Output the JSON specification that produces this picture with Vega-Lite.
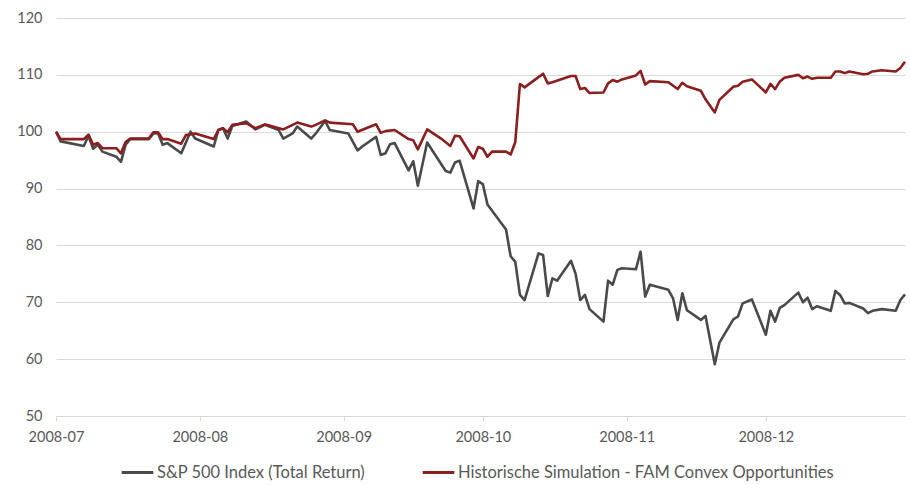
{
  "$schema": "https://vega.github.io/schema/vega-lite/v6.json",
  "width": 849,
  "height": 398,
  "autosize": {"type": "none"},
  "padding": {"left": 56, "top": 18, "right": 5, "bottom": 69},
  "background": "white",
  "datasets": {
    "sp": [
      {"date":"2008-07-01","value":100},{"date":"2008-07-02","value":98.3},{"date":"2008-07-07","value":97.5},{"date":"2008-07-08","value":99.3},{"date":"2008-07-09","value":97},{"date":"2008-07-10","value":97.7},{"date":"2008-07-11","value":96.5},{"date":"2008-07-14","value":95.6},{"date":"2008-07-15","value":94.7},{"date":"2008-07-16","value":97.7},{"date":"2008-07-17","value":98.7},{"date":"2008-07-21","value":98.7},{"date":"2008-07-22","value":99.7},{"date":"2008-07-23","value":99.7},{"date":"2008-07-24","value":97.7},{"date":"2008-07-25","value":98},{"date":"2008-07-28","value":96.2},{"date":"2008-07-30","value":100},{"date":"2008-07-31","value":98.8},
      {"date":"2008-08-04","value":97.4},{"date":"2008-08-05","value":100.3},{"date":"2008-08-06","value":100.6},{"date":"2008-08-07","value":98.8},{"date":"2008-08-08","value":101},{"date":"2008-08-11","value":101.8},{"date":"2008-08-13","value":100.4},{"date":"2008-08-15","value":101.2},{"date":"2008-08-18","value":100.3},{"date":"2008-08-19","value":98.8},{"date":"2008-08-21","value":99.7},{"date":"2008-08-22","value":100.9},{"date":"2008-08-25","value":98.8},{"date":"2008-08-26","value":99.7},{"date":"2008-08-28","value":101.9},{"date":"2008-08-29","value":100.3},
      {"date":"2008-09-02","value":99.7},{"date":"2008-09-04","value":96.7},{"date":"2008-09-05","value":97.4},{"date":"2008-09-08","value":99.1},{"date":"2008-09-09","value":95.9},{"date":"2008-09-10","value":96.2},{"date":"2008-09-11","value":97.8},{"date":"2008-09-12","value":98},{"date":"2008-09-15","value":93.2},{"date":"2008-09-16","value":94.8},{"date":"2008-09-17","value":90.5},{"date":"2008-09-19","value":98.1},{"date":"2008-09-23","value":93.1},{"date":"2008-09-24","value":92.8},{"date":"2008-09-25","value":94.6},{"date":"2008-09-26","value":94.9},{"date":"2008-09-29","value":86.5},{"date":"2008-09-30","value":91.3},
      {"date":"2008-10-01","value":90.8},{"date":"2008-10-02","value":87.2},{"date":"2008-10-06","value":82.8},{"date":"2008-10-07","value":78.1},{"date":"2008-10-08","value":77.1},{"date":"2008-10-09","value":71.3},{"date":"2008-10-10","value":70.4},{"date":"2008-10-13","value":78.6},{"date":"2008-10-14","value":78.3},{"date":"2008-10-15","value":71.1},{"date":"2008-10-16","value":74.2},{"date":"2008-10-17","value":73.8},{"date":"2008-10-20","value":77.3},{"date":"2008-10-21","value":75},{"date":"2008-10-22","value":70.4},{"date":"2008-10-23","value":71.3},{"date":"2008-10-24","value":68.8},{"date":"2008-10-27","value":66.6},{"date":"2008-10-28","value":73.8},{"date":"2008-10-29","value":73.1},{"date":"2008-10-30","value":75.7},{"date":"2008-10-31","value":76},
      {"date":"2008-11-03","value":75.8},{"date":"2008-11-04","value":78.9},{"date":"2008-11-05","value":71},{"date":"2008-11-06","value":73.1},{"date":"2008-11-10","value":72.2},{"date":"2008-11-11","value":70.7},{"date":"2008-11-12","value":66.9},{"date":"2008-11-13","value":71.6},{"date":"2008-11-14","value":68.6},{"date":"2008-11-17","value":66.9},{"date":"2008-11-18","value":67.6},{"date":"2008-11-20","value":59.1},{"date":"2008-11-21","value":62.9},{"date":"2008-11-24","value":67},{"date":"2008-11-25","value":67.5},{"date":"2008-11-26","value":69.8},{"date":"2008-11-28","value":70.5},
      {"date":"2008-12-01","value":64.3},{"date":"2008-12-02","value":68.5},{"date":"2008-12-03","value":66.6},{"date":"2008-12-04","value":69},{"date":"2008-12-05","value":69.5},{"date":"2008-12-08","value":71.7},{"date":"2008-12-09","value":70},{"date":"2008-12-10","value":70.8},{"date":"2008-12-11","value":68.8},{"date":"2008-12-12","value":69.3},{"date":"2008-12-15","value":68.5},{"date":"2008-12-16","value":72},{"date":"2008-12-17","value":71.3},{"date":"2008-12-18","value":69.8},{"date":"2008-12-19","value":69.9},{"date":"2008-12-22","value":68.9},{"date":"2008-12-23","value":68.1},{"date":"2008-12-24","value":68.5},{"date":"2008-12-26","value":68.8},{"date":"2008-12-29","value":68.5},{"date":"2008-12-30","value":70.4},{"date":"2008-12-31","value":71.4}
    ],
    "fam": [
      {"date":"2008-07-01","value":100},{"date":"2008-07-02","value":98.7},{"date":"2008-07-07","value":98.7},{"date":"2008-07-08","value":99.5},{"date":"2008-07-09","value":97.7},{"date":"2008-07-10","value":98},{"date":"2008-07-11","value":97.1},{"date":"2008-07-14","value":97.1},{"date":"2008-07-15","value":96.2},{"date":"2008-07-16","value":98.2},{"date":"2008-07-17","value":98.8},{"date":"2008-07-21","value":98.8},{"date":"2008-07-22","value":99.9},{"date":"2008-07-23","value":99.9},{"date":"2008-07-24","value":98.7},{"date":"2008-07-25","value":98.7},{"date":"2008-07-28","value":97.9},{"date":"2008-07-29","value":99.4},{"date":"2008-07-31","value":99.7},
      {"date":"2008-08-04","value":98.7},{"date":"2008-08-05","value":100.3},{"date":"2008-08-06","value":100.6},{"date":"2008-08-07","value":99.9},{"date":"2008-08-08","value":101.2},{"date":"2008-08-11","value":101.5},{"date":"2008-08-13","value":100.6},{"date":"2008-08-15","value":101.3},{"date":"2008-08-19","value":100.4},{"date":"2008-08-22","value":101.6},{"date":"2008-08-25","value":100.9},{"date":"2008-08-26","value":101.2},{"date":"2008-08-28","value":102},{"date":"2008-08-29","value":101.6},
      {"date":"2008-09-03","value":101.3},{"date":"2008-09-04","value":100},{"date":"2008-09-08","value":101.3},{"date":"2008-09-09","value":99.8},{"date":"2008-09-10","value":100.1},{"date":"2008-09-12","value":100.3},{"date":"2008-09-15","value":98.7},{"date":"2008-09-16","value":98.5},{"date":"2008-09-17","value":96.9},{"date":"2008-09-19","value":100.4},{"date":"2008-09-22","value":98.8},{"date":"2008-09-24","value":97.5},{"date":"2008-09-25","value":99.3},{"date":"2008-09-26","value":99.2},{"date":"2008-09-29","value":95.3},{"date":"2008-09-30","value":97.3},
      {"date":"2008-10-01","value":97},{"date":"2008-10-02","value":95.6},{"date":"2008-10-03","value":96.5},{"date":"2008-10-06","value":96.5},{"date":"2008-10-07","value":96},{"date":"2008-10-08","value":98.2},{"date":"2008-10-09","value":108.4},{"date":"2008-10-10","value":107.8},{"date":"2008-10-13","value":109.6},{"date":"2008-10-14","value":110.2},{"date":"2008-10-15","value":108.5},{"date":"2008-10-16","value":108.7},{"date":"2008-10-20","value":109.8},{"date":"2008-10-21","value":109.8},{"date":"2008-10-22","value":107.5},{"date":"2008-10-23","value":107.7},{"date":"2008-10-24","value":106.8},{"date":"2008-10-27","value":106.9},{"date":"2008-10-28","value":108.5},{"date":"2008-10-29","value":109.1},{"date":"2008-10-30","value":108.8},{"date":"2008-10-31","value":109.2},
      {"date":"2008-11-03","value":109.9},{"date":"2008-11-04","value":110.7},{"date":"2008-11-05","value":108.3},{"date":"2008-11-06","value":108.9},{"date":"2008-11-10","value":108.7},{"date":"2008-11-12","value":107.5},{"date":"2008-11-13","value":108.6},{"date":"2008-11-14","value":108},{"date":"2008-11-17","value":107.2},{"date":"2008-11-18","value":105.7},{"date":"2008-11-20","value":103.4},{"date":"2008-11-21","value":105.6},{"date":"2008-11-24","value":107.9},{"date":"2008-11-25","value":108.1},{"date":"2008-11-26","value":108.8},{"date":"2008-11-28","value":109.2},
      {"date":"2008-12-01","value":106.9},{"date":"2008-12-02","value":108.4},{"date":"2008-12-03","value":107.5},{"date":"2008-12-04","value":108.8},{"date":"2008-12-05","value":109.5},{"date":"2008-12-08","value":110},{"date":"2008-12-09","value":109.4},{"date":"2008-12-10","value":109.7},{"date":"2008-12-11","value":109.3},{"date":"2008-12-12","value":109.5},{"date":"2008-12-15","value":109.5},{"date":"2008-12-16","value":110.6},{"date":"2008-12-17","value":110.6},{"date":"2008-12-18","value":110.3},{"date":"2008-12-19","value":110.6},{"date":"2008-12-22","value":110.1},{"date":"2008-12-23","value":110.2},{"date":"2008-12-24","value":110.6},{"date":"2008-12-26","value":110.8},{"date":"2008-12-29","value":110.6},{"date":"2008-12-30","value":111.2},{"date":"2008-12-31","value":112.3}
    ]
  },
  "encoding": {
    "x": {
      "field": "date", "type": "temporal",
      "scale": {"type": "utc", "domain": [{"year": 2008, "month": 7, "date": 1, "utc": true}, {"year": 2008, "month": 12, "date": 31, "utc": true}]},
      "axis": {"title": null, "format": "%Y-%m", "tickCount": {"interval": "month", "step": 1}, "grid": false, "domainColor": "#d9d9d9", "tickColor": "#d9d9d9", "tickSize": 5, "labelFontSize": 14.5, "labelColor": "#595959", "labelPadding": 9, "labelFlush": false, "labelOverlap": false}
    },
    "y": {
      "field": "value", "type": "quantitative",
      "scale": {"domain": [50, 120], "nice": false, "zero": false},
      "axis": {"title": null, "values": [50, 60, 70, 80, 90, 100, 110, 120], "domain": false, "ticks": false, "gridColor": "#d9d9d9", "gridWidth": 1, "labelFontSize": 14.5, "labelColor": "#595959", "labelPadding": 14}
    }
  },
  "layer": [
    {
      "data": {"name": "sp"},
      "mark": {"type": "line", "strokeWidth": 2.6, "strokeJoin": "round"},
      "encoding": {"color": {"datum": "S&P 500 Index (Total Return)"}}
    },
    {
      "data": {"name": "fam"},
      "mark": {"type": "line", "strokeWidth": 2.6, "strokeJoin": "round"},
      "encoding": {"color": {"datum": "Historische Simulation - FAM Convex Opportunities", "legend": {"orient": "none", "legendX": 64, "legendY": 437}}}
    }
  ],
  "resolve": {"scale": {"color": "shared"}},
  "config": {
    "view": {"stroke": null},
    "font": "Lato",
    "range": {"category": ["#4a4a4a", "#8b1e1e"]},
    "legend": {
      "direction": "horizontal", "title": null,
      "symbolType": "stroke", "symbolStrokeWidth": 3, "symbolSize": 1000,
      "labelFontSize": 16.5, "labelColor": "#595959", "labelLimit": 500,
      "columnPadding": 50, "labelOffset": 2
    }
  }
}
